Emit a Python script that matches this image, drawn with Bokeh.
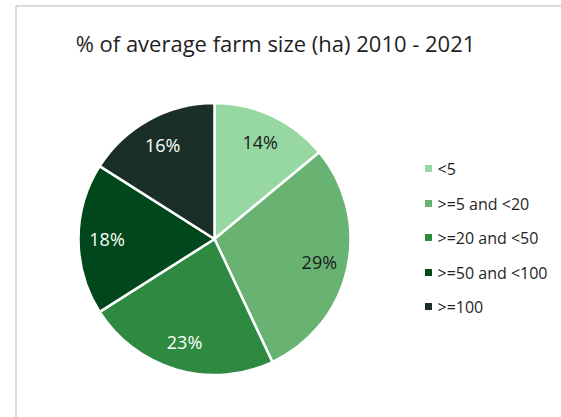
import math
from bokeh.plotting import figure
from bokeh.models import ColumnDataSource, Range1d
from bokeh.core.properties import value
from bokeh.embed import file_html
from bokeh.resources import INLINE

title = "% of average farm size (ha) 2010 - 2021"
categories = ["<5", ">=5 and <20", ">=20 and <50", ">=50 and <100", ">=100"]
shares = [14, 29, 23, 18, 16]
colors = ["#97d8a2", "#69b372", "#2e8a41", "#00481b", "#1b2f29"]
label_colors = ["#1a1a1a", "#1a1a1a", "#ffffff", "#ffffff", "#ffffff"]

W, H = 561, 417
FONT = "Open Sans"

p = figure(width=W, height=H, output_backend="svg", toolbar_location=None,
           x_range=Range1d(0, W), y_range=Range1d(0, H), min_border=0)
p.axis.visible = False
p.grid.visible = False
p.outline_line_color = None
p.background_fill_color = "white"
p.border_fill_color = "white"

# frame border (left and top)
p.line(x=[15.5, 15.5, W], y=[0, H - 5.5, H - 5.5], line_color="#d9d9d9", line_width=2)

# title
p.text(x=[275], y=[H - 42], text=[title], text_align="center", text_baseline="middle",
       text_font=value(FONT), text_font_size="22px", text_color="#1f1f1f")

# pie
cx, cy, r = 214, H - 238.5, 136
total = sum(shares)
starts, ends, lx, ly, labels = [], [], [], [], []
cum = 0.0
for s in shares:
    a0 = math.pi / 2 - 2 * math.pi * cum / total
    cum += s
    a1 = math.pi / 2 - 2 * math.pi * cum / total
    starts.append(a0)
    ends.append(a1)
    mid = (a0 + a1) / 2
    lx.append(cx + 0.79 * r * math.cos(mid))
    ly.append(cy + 0.79 * r * math.sin(mid))
    labels.append(f"{s}%")

src = ColumnDataSource(dict(start=starts, end=ends, color=colors, lx=lx, ly=ly,
                            label=labels, lc=label_colors, cat=categories))
p.wedge(x=cx, y=cy, radius=r, start_angle="start", end_angle="end", direction="clock",
        fill_color="color", line_color="white", line_width=2.5, source=src)
p.text(x="lx", y="ly", text="label", text_color="lc", text_align="center",
       text_baseline="middle", text_font=value(FONT), text_font_size="18px", source=src)

# legend
ys = [H - 168, H - 203, H - 237, H - 272, H - 306]
lsrc = ColumnDataSource(dict(x=[428] * 5, tx=[437] * 5, y=ys, color=colors, cat=categories))
p.scatter(x="x", y="y", marker="square", size=7, fill_color="color", line_color=None, source=lsrc)
p.text(x="tx", y="y", text="cat", text_baseline="middle", text_align="left",
       text_font=value(FONT), text_font_size="16px", text_color="#1f1f1f", source=lsrc)

open("out.html", "w").write(file_html(p, INLINE))
